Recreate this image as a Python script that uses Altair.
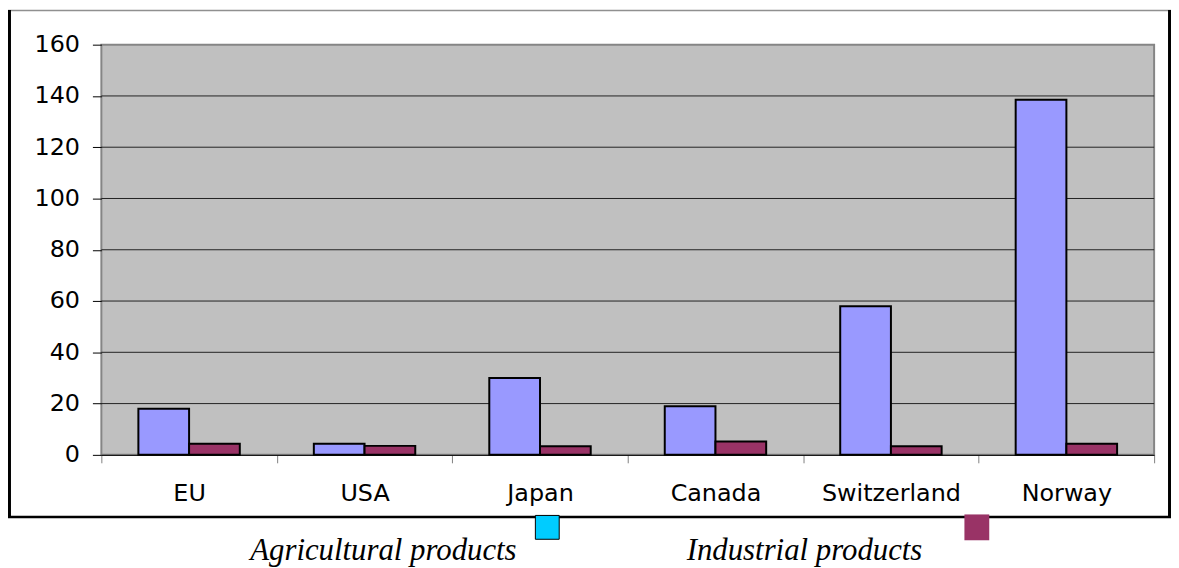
import altair as alt
import pandas as pd

countries = ["EU", "USA", "Japan", "Canada", "Switzerland", "Norway"]
series = ["Agricultural products", "Industrial products"]
agri_values = [18, 4.3, 30, 19, 58, 138.5]
ind_values = [4.3, 3.5, 3.4, 5.2, 3.4, 4.3]
bar_colors = ["#9999FF", "#993366"]
legend_colors = ["#00CCFF", "#993366"]
y_ticks = [0, 20, 40, 60, 80, 100, 120, 140, 160]
grid_values = [20, 40, 60, 80, 100, 120, 140]

rows = []
for c, a, i in zip(countries, agri_values, ind_values):
    rows.append({"country": c, "series": series[0], "value": a})
    rows.append({"country": c, "series": series[1], "value": i})
df = pd.DataFrame(rows)

W, H = 1060, 413
SANS = "DejaVu Sans"
FS = 24

y_scale = alt.Scale(domain=[0, 160], nice=False, zero=True)
y_axis = alt.Axis(
    title=None, values=y_ticks, grid=False, domain=False,
    tickColor="#000000", tickSize=9, labelFont=SANS,
    labelFontSize=FS, labelColor="#000000", labelPadding=13,
)

grid = alt.Chart(pd.DataFrame({"value": grid_values})).mark_rule(
    color="#222222", strokeWidth=1
).encode(y=alt.Y("value:Q", scale=y_scale, axis=y_axis))

bars = alt.Chart(df).mark_bar(stroke="#000000", strokeWidth=2).encode(
    x=alt.X(
        "country:N",
        sort=countries,
        scale=alt.Scale(paddingInner=0, paddingOuter=0),
        axis=alt.Axis(
            title=None, labelAngle=0, tickBand="extent", tickColor="#808080",
            tickSize=8, domainColor="#000000", domainWidth=1,
            labelFont=SANS, labelFontSize=FS, labelColor="#000000",
            labelPadding=19, grid=False,
        ),
    ),
    xOffset=alt.XOffset(
        "series:N", sort=series,
        scale=alt.Scale(paddingInner=0, paddingOuter=0.73),
    ),
    y=alt.Y("value:Q", scale=y_scale, axis=y_axis),
    color=alt.Color(
        "series:N", scale=alt.Scale(domain=series, range=bar_colors), legend=None
    ),
)

one = pd.DataFrame({"k": [0]})

frame_left = alt.Chart(one).mark_rule(color="#000000", strokeWidth=3).encode(
    x=alt.value(-92.5), y=alt.value(-35), y2=alt.value(476.5))
frame_bottom = alt.Chart(one).mark_rule(color="#000000", strokeWidth=2.5).encode(
    x=alt.value(-94), x2=alt.value(1077), y=alt.value(475.5))
frame_right = alt.Chart(one).mark_rule(color="#000000", strokeWidth=3).encode(
    x=alt.value(1075.5), y=alt.value(-35), y2=alt.value(476.5))
frame_top = alt.Chart(one).mark_rule(color="#909090", strokeWidth=1.5).encode(
    x=alt.value(-94), x2=alt.value(1077), y=alt.value(-34.5))

leg1_df = pd.DataFrame({"label": [series[0]]})
leg2_df = pd.DataFrame({"label": [series[1]]})

sq1 = alt.Chart(leg1_df).mark_rect(stroke="#000000", strokeWidth=1).encode(
    x=alt.value(437), x2=alt.value(461), y=alt.value(474), y2=alt.value(498),
    color=alt.value(legend_colors[0]))
sq2 = alt.Chart(leg2_df).mark_rect().encode(
    x=alt.value(869), x2=alt.value(894), y=alt.value(473), y2=alt.value(499),
    color=alt.value(legend_colors[1]))

txt_style = dict(font="Liberation Serif", fontStyle="italic", fontSize=31,
                 align="center", baseline="alphabetic", color="#000000")
t1 = alt.Chart(leg1_df).mark_text(**txt_style).encode(
    x=alt.value(284), y=alt.value(519), text="label:N")
t2 = alt.Chart(leg2_df).mark_text(**txt_style).encode(
    x=alt.value(708), y=alt.value(519), text="label:N")

chart = alt.layer(
    grid, bars, frame_top, frame_left, frame_bottom, frame_right, sq1, sq2, t1, t2
).properties(
    width=W, height=H,
    autosize=alt.AutoSizeParams(type="none"),
    padding={"left": 94, "top": 35, "right": 17, "bottom": 112},
    background="#FFFFFF",
).configure_view(
    fill="#C0C0C0", stroke="#858585", strokeWidth=2
)

chart.save("out.html", embed_options={"renderer": "svg", "actions": False})
